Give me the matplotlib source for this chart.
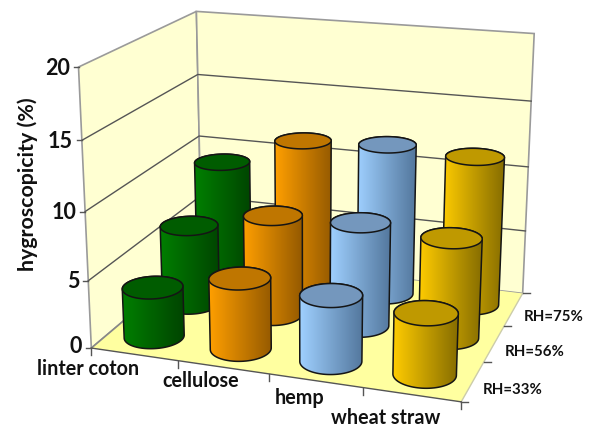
import numpy as np
import matplotlib
matplotlib.use("Agg")
import matplotlib.pyplot as plt
from matplotlib.patches import Polygon, PathPatch
from matplotlib.path import Path
from matplotlib.colors import to_rgb

# ---- data ----
materials = ["linter coton", "cellulose", "hemp", "wheat straw"]
humidity = ["RH=33%", "RH=56%", "RH=75%"]
rh33 = [3.7, 5.2, 4.8, 4.4]
rh56 = [6.1, 7.6, 7.8, 7.4]
rh75 = [9.1, 11.4, 11.7, 11.4]
z_ticks = [0, 5, 10, 15, 20]
z_max = 20

# ---- styling ----
side_light = ["#007f00", "#ff9f00", "#9fd0ff", "#ffcc00"]
side_dark = ["#004400", "#955a00", "#53779d", "#856c00"]
top_fill = ["#005c00", "#bf7600", "#7497bd", "#bf9900"]
wall_c, floor_c = "#ffffd2", "#ffffa0"
font = ["Lato", "DejaVu Sans"]

# ---- perspective calibration: (x, y, z) unit box -> pixels ----
box = np.array([(0, 0, 0), (1, 0, 0), (1, 1, 0), (0, 1, 0), (0, 0, 1), (0, 1, 1), (1, 1, 1)], float)
pix = np.array([(92, 347), (461, 403), (523, 292), (201, 256), (78, 67), (197, 11), (534, 34)], float)
rows = []
for (X, Y, Z), (u, v) in zip(box, pix):
    rows.append([X, Y, Z, 1, 0, 0, 0, 0, -u * X, -u * Y, -u * Z, -u])
    rows.append([0, 0, 0, 0, X, Y, Z, 1, -v * X, -v * Y, -v * Z, -v])
M = np.linalg.svd(np.array(rows))[2][-1].reshape(3, 4)


def proj(x, y, z):
    x, y, z = np.broadcast_arrays(np.asarray(x, float), np.asarray(y, float), np.asarray(z, float))
    p = M @ np.stack([x.ravel(), y.ravel(), z.ravel(), np.ones(x.size)])
    return np.column_stack([p[0] / p[2], p[1] / p[2]])


def hull(points):
    pts = sorted(map(tuple, points))

    def half(seq):
        out = []
        for q in seq:
            while len(out) > 1 and ((out[-1][0] - out[-2][0]) * (q[1] - out[-2][1])
                                    - (out[-1][1] - out[-2][1]) * (q[0] - out[-2][0])) <= 0:
                out.pop()
            out.append(q)
        return out[:-1]
    return np.array(half(pts) + half(pts[::-1]))


fig = plt.figure(figsize=(6.03, 4.29), dpi=100)
ax = fig.add_axes([0, 0, 1, 1])
ax.axis("off")

# walls and floor
edge = "#9a9a9a"
ax.add_patch(Polygon(proj([0, 0, 0, 0], [0, 1, 1, 0], [0, 0, 1, 1]), fc=wall_c, ec=edge, lw=1.2, zorder=1))
ax.add_patch(Polygon(proj([0, 1, 1, 0], [1, 1, 1, 1], [0, 0, 1, 1]), fc=wall_c, ec=edge, lw=1.2, zorder=1))
ax.add_patch(Polygon(proj([0, 1, 1, 0], [0, 0, 1, 1], [0, 0, 0, 0]), fc=floor_c, ec="none", zorder=2))

# gridlines and value axis
for t in z_ticks:
    h = t / z_max
    if 0 < t < z_max:
        ax.plot(*proj([0, 0, 1], [0, 1, 1], [h, h, h]).T, color="#555555", lw=1.0, zorder=2)
    a = proj(0, 0, h)[0]
    ax.plot([a[0] - 5, a[0]], [a[1], a[1]], color="#555555", lw=1.0, zorder=3)
    ax.text(a[0] - 9, a[1] + (1 if t else -2), str(t), ha="right", va="center", fontsize=15.5,
            fontweight="bold", family=font, color="#111111")

# floor edges and ticks
ax.plot(*proj([0, 0], [1, 0], [0, 0]).T, color="#888888", lw=1.2, zorder=3)
ax.plot(*proj([1, 1], [1, 0], [0, 0]).T, color="#ccccaa", lw=1.0, zorder=3)
ax.plot(*proj([0, 1], [0, 0], [0, 0]).T, color="#555555", lw=1.0, zorder=3)
for i in range(len(materials) + 1):
    a = proj(i / len(materials), 0, 0)[0]
    ax.plot([a[0], a[0]], [a[1], a[1] + 7], color="#555555", lw=1.0, zorder=3)
for j in range(len(humidity) + 1):
    a = proj(1, j / len(humidity), 0)[0]
    ax.plot([a[0], a[0] + 7], [a[1], a[1]], color="#555555", lw=1.0, zorder=3)

# cylinders, painted back to front
values = [rh33, rh56, rh75]
theta = np.linspace(0, 2 * np.pi, 121)
rx, ry = 0.080, 0.110
z = 10
grad = np.linspace(0, 1, 256)[None, :, None]
for j in reversed(range(len(humidity))):
    for i in range(len(materials)):
        cx, cy = (i + 0.5) / len(materials), (j + 0.5) / len(humidity)
        ex, ey = cx + rx * np.cos(theta), cy + ry * np.sin(theta)
        h = values[j][i] / z_max
        base, top = proj(ex, ey, 0 * ex), proj(ex, ey, h + 0 * ex)
        sil = hull(np.vstack([base, top]))
        x0, x1 = sil[:, 0].min(), sil[:, 0].max()
        lo, hi = np.array(to_rgb(side_light[i])), np.array(to_rgb(side_dark[i]))
        img = ax.imshow(lo + (hi - lo) * grad, extent=[x0, x1, sil[:, 1].max(), sil[:, 1].min()],
                        aspect="auto", zorder=z, interpolation="bilinear")
        img.set_clip_path(PathPatch(Path(np.vstack([sil, sil[:1]])), transform=ax.transData))
        ax.add_patch(Polygon(sil, fc="none", ec="#151515", lw=1.1, zorder=z + 0.1))
        ax.add_patch(Polygon(top, fc=top_fill[i], ec="#151515", lw=1.1, zorder=z + 0.2))
        z += 1

# text
mat_pos = [(88, 369), (201, 381), (300, 398), (386, 418)]
for name, (px, py) in zip(materials, mat_pos):
    ax.text(px, py, name, ha="center", va="center", fontsize=14.2, fontweight="bold",
            family=font, color="#111111", zorder=50)
rh_pos = [(483, 390), (505, 352), (524, 317)]
for name, (px, py) in zip(humidity, rh_pos):
    ax.text(px, py, name, ha="left", va="center", fontsize=10.8, fontweight="bold",
            family=font, color="#111111", zorder=50)
ax.text(28, 184, "hygroscopicity (%)", rotation=90, ha="center", va="center", fontsize=15.4,
        fontweight="bold", family=font, color="#111111")

ax.set_xlim(0, 603)
ax.set_ylim(429, 0)
fig.savefig("out.png", dpi=100, facecolor="white")
